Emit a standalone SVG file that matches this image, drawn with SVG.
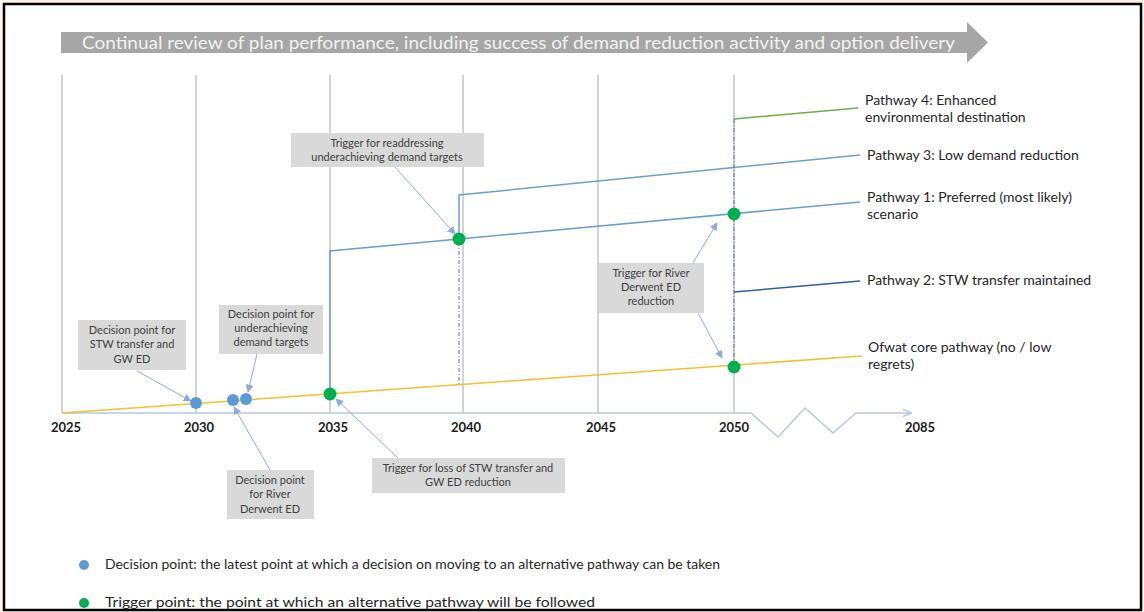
<svg xmlns="http://www.w3.org/2000/svg" width="1144" height="612" viewBox="0 0 1144 612">
<defs>
<style>
.grid{stroke:#a6a6a6;stroke-width:1;fill:none}
.axis{stroke:#b4c7e7;stroke-width:1.5;fill:none}
.yr{font-family:Lato,"Liberation Sans",sans-serif;font-weight:bold;font-size:13px;fill:#1a1a1a;text-anchor:middle}
.pl{font-family:Lato,"Liberation Sans",sans-serif;font-size:14px;fill:#262626}
.cb{fill:#d9d9d9}
.ct{font-family:Lato,"Liberation Sans",sans-serif;font-size:11px;fill:#404040;text-anchor:middle}
.lg{font-family:Lato,"Liberation Sans",sans-serif;font-size:13px;fill:#262626}
.ptr{stroke:#8faadc;stroke-width:1;fill:none;marker-end:url(#ah)}
.dd{stroke:#4a6fb5;stroke-width:1;stroke-dasharray:4 2 1 2;fill:none}
.dp{fill:#5b9bd5}
.tp{fill:#00b050}
</style>
<marker id="ah" viewBox="0 0 10 10" refX="9" refY="5" markerWidth="8" markerHeight="8" orient="auto" markerUnits="userSpaceOnUse">
<path d="M0,0 L10,5 L0,10 z" fill="#8faadc"/>
</marker>
<marker id="axh" viewBox="0 0 10 10" refX="9" refY="5" markerWidth="9" markerHeight="9" orient="auto" markerUnits="userSpaceOnUse">
<path d="M0,1 L10,5 L0,9" fill="none" stroke="#b4c7e7" stroke-width="1.5"/>
</marker>
</defs>
<rect x="0" y="0" width="1144" height="612" fill="#fcf6e8"/>
<rect x="4" y="4" width="1137" height="606" fill="#ffffff" stroke="#000000" stroke-width="2.5"/>

<g id="banner">
<path d="M61,32 L967,32 L967,22 L988,42.5 L967,63 L967,53 L61,53 Z" fill="#a6a6a6"/>
<text x="82" y="49" font-family="Lato,'Liberation Sans',sans-serif" font-size="18" fill="#f2f2f2" textLength="873" lengthAdjust="spacingAndGlyphs">Continual review of plan performance, including success of demand reduction activity and option delivery</text>
</g>

<g id="grid">
<line class="grid" x1="62" y1="75" x2="62" y2="413"/>
<line class="grid" x1="196" y1="75" x2="196" y2="413"/>
<line class="grid" x1="330" y1="75" x2="330" y2="413"/>
<line class="grid" x1="463" y1="75" x2="463" y2="413"/>
<line class="grid" x1="598" y1="75" x2="598" y2="413"/>
<line class="grid" x1="734" y1="75" x2="734" y2="413"/>
</g>

<g id="axis">
<polyline class="axis" points="62,413 751,413 778,437 805,408 833,433 856,413 911,413" marker-end="url(#axh)"/>
<text class="yr" x="66" y="432">2025</text>
<text class="yr" x="199" y="432">2030</text>
<text class="yr" x="333" y="432">2035</text>
<text class="yr" x="466" y="432">2040</text>
<text class="yr" x="601" y="432">2045</text>
<text class="yr" x="734" y="432">2050</text>
<text class="yr" x="920" y="432">2085</text>
</g>

<g id="connectors">
<line x1="62" y1="413" x2="862" y2="356" stroke="#f5c02c" stroke-width="1.5"/>
<polyline points="330,394 330,251 860,202" fill="none" stroke="#6a9fd2" stroke-width="1.5"/>
<polyline points="459,239 459,195 860,155" fill="none" stroke="#6a9fd2" stroke-width="1.5"/>
<line x1="734" y1="119" x2="858" y2="108" stroke="#70ad47" stroke-width="1.5"/>
<line x1="734" y1="292" x2="860" y2="281" stroke="#2e5fa5" stroke-width="1.5"/>
<line class="dd" x1="459" y1="242" x2="459" y2="385"/>
<line class="dd" x1="734" y1="119" x2="734" y2="367"/>
<line class="ptr" x1="137" y1="371" x2="191" y2="401"/>
<line class="ptr" x1="257" y1="354" x2="248" y2="392"/>
<line class="ptr" x1="270" y1="470" x2="234" y2="407"/>
<line class="ptr" x1="398" y1="458" x2="336" y2="399"/>
<line class="ptr" x1="395" y1="167" x2="455" y2="234"/>
<line class="ptr" x1="693" y1="263" x2="717" y2="223"/>
<line class="ptr" x1="698" y1="313" x2="722" y2="358"/>
</g>

<g id="points">
<circle class="dp" cx="196" cy="403" r="6"/>
<circle class="dp" cx="233" cy="400" r="6"/>
<circle class="dp" cx="246" cy="399" r="6"/>
<circle class="tp" cx="330" cy="394" r="6.5"/>
<circle class="tp" cx="459" cy="239" r="6.5"/>
<circle class="tp" cx="734" cy="214" r="6.5"/>
<circle class="tp" cx="734" cy="367" r="6.5"/>
</g>

<g id="label-p4"><text class="pl" x="865" y="105">Pathway 4: Enhanced</text><text class="pl" x="865" y="122">environmental destination</text></g>
<g id="label-p3"><text class="pl" x="867" y="160">Pathway 3: Low demand reduction</text></g>
<g id="label-p1"><text class="pl" x="867" y="202">Pathway 1: Preferred (most likely)</text><text class="pl" x="867" y="219">scenario</text></g>
<g id="label-p2"><text class="pl" x="867" y="285">Pathway 2: STW transfer maintained</text></g>
<g id="label-ofwat"><text class="pl" x="868" y="352">Ofwat core pathway (no / low</text><text class="pl" x="868" y="369">regrets)</text></g>

<g id="callout-stw-gw">
<rect class="cb" x="78" y="320" width="108" height="50"/>
<text class="ct" x="132" y="334">Decision point for</text>
<text class="ct" x="132" y="348">STW transfer and</text>
<text class="ct" x="132" y="363">GW ED</text>
</g>
<g id="callout-underachieving">
<rect class="cb" x="219" y="305" width="104" height="49"/>
<text class="ct" x="271" y="318">Decision point for</text>
<text class="ct" x="271" y="332">underachieving</text>
<text class="ct" x="271" y="346">demand targets</text>
</g>
<g id="callout-river-derwent">
<rect class="cb" x="227" y="470" width="87" height="49"/>
<text class="ct" x="270" y="484">Decision point</text>
<text class="ct" x="270" y="498">for River</text>
<text class="ct" x="270" y="513">Derwent ED</text>
</g>
<g id="callout-loss-stw">
<rect class="cb" x="372" y="458" width="193" height="35"/>
<text class="ct" x="468" y="472">Trigger for loss of STW transfer and</text>
<text class="ct" x="468" y="486">GW ED reduction</text>
</g>
<g id="callout-readdressing">
<rect class="cb" x="291" y="133" width="193" height="34"/>
<text class="ct" x="387" y="147">Trigger for readdressing</text>
<text class="ct" x="387" y="161">underachieving demand targets</text>
</g>
<g id="callout-river-reduction">
<rect class="cb" x="599" y="263" width="105" height="50"/>
<text class="ct" x="651" y="277">Trigger for River</text>
<text class="ct" x="651" y="291">Derwent ED</text>
<text class="ct" x="651" y="305">reduction</text>
</g>

<g id="legend">
<circle class="dp" cx="84" cy="565" r="5"/>
<text class="lg" x="105" y="569" textLength="615" lengthAdjust="spacingAndGlyphs">Decision point: the latest point at which a decision on moving to an alternative pathway can be taken</text>
<circle class="tp" cx="84" cy="603" r="5"/>
<text class="lg" x="105" y="607" textLength="490" lengthAdjust="spacingAndGlyphs">Trigger point: the point at which an alternative pathway will be followed</text>
</g>
</svg>
